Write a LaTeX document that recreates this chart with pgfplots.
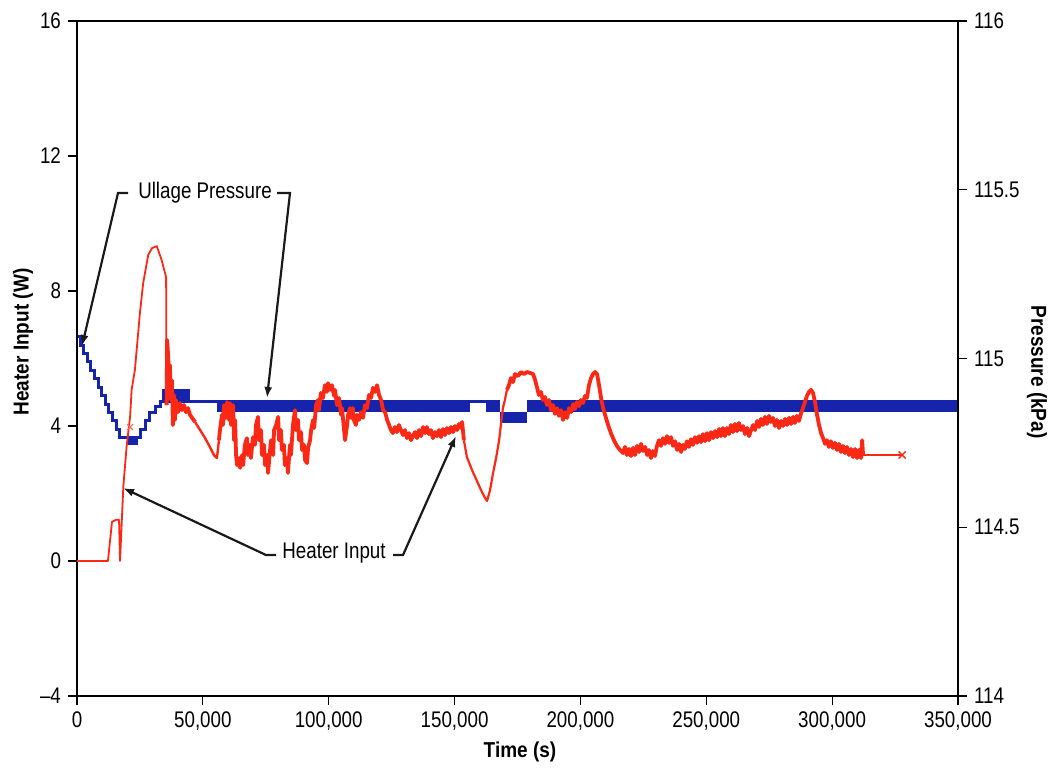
\documentclass[border=0pt]{standalone}
\usepackage{fontspec}
\setmainfont{Liberation Sans}[FakeStretch=0.83]
\newfontfamily\labfont{Liberation Sans}[FakeStretch=0.88]
\usepackage{pgfplots}
\pgfplotsset{compat=1.18}
\usetikzlibrary{arrows.meta}
\definecolor{ullage}{RGB}{22,36,172}
\definecolor{heater}{RGB}{250,40,20}
\newcommand\tickfont{\fontsize{11.3}{13}\selectfont}
\newcommand\annfont{\fontsize{11.3}{13}\selectfont}
\newcommand\axlabfont{\labfont\fontsize{10.8}{12}\bfseries}
\begin{document}
\begin{tikzpicture}
\pgfplotsset{common/.style={scale only axis, width=440.5pt, height=337.5pt,
  at={(0,0)}, anchor=south west, xmin=0, xmax=350000,
  scaled x ticks=false, scaled y ticks=false,
  tick align=outside, major tick length=4.5pt,
  tick style={line width=0.6pt, black},
  axis line style={line width=1pt, black},
  tick label style={font=\tickfont}}}
% ---------------- Pressure (right axis) ----------------
\begin{axis}[common, axis x line=none, axis y line*=right,
  ymin=114, ymax=116, ytick={114,114.5,115,115.5,116},
  yticklabels={114,114.5,115,115.5,116}]
\addplot[ullage, line width=1.5pt, const plot, line join=miter] coordinates {
(0,115.065) (1192,115.04) (2622,115.015) (4052,114.99) (5482,114.965)
(6913,114.94) (8343,114.915) (9773,114.89) (11203,114.865) (12633,114.84)
(14064,114.815) (15494,114.79) (16924,114.765) (25030,114.79) (27015,114.815)
(29001,114.84) (30988,114.857) (32974,114.872) (55619,114.872)};
\addplot[ullage, line width=4pt] coordinates {(19864,114.756) (24234,114.756)};
\addplot[ullage, line width=6.5pt] coordinates {(33769,114.890) (44893,114.890)};
\addplot[ullage, line width=6pt] coordinates {(55619,114.859) (156131,114.859)};
\addplot[ullage, line width=1.2pt] coordinates {(156131,114.873) (162488,114.873)};
\addplot[ullage, line width=6pt] coordinates {(162488,114.859) (168050,114.859)};
\addplot[ullage, line width=5.5pt] coordinates {(168050,114.825) (178776,114.825)};
\addplot[ullage, line width=6pt] coordinates {(178776,114.859) (350000,114.859)};
\end{axis}
% ---------------- Heater input (left axis) ----------------
\begin{axis}[common, ymin=-4, ymax=16, ytick={-4,0,4,8,12,16},
  yticklabels={–4,0,4,8,12,16},
  xtick={0,50000,100000,150000,200000,250000,300000,350000},
  xticklabels={0,50{,}000,100{,}000,150{,}000,200{,}000,250{,}000,300{,}000,350{,}000},
  xtick pos=bottom, ytick pos=left]
\addplot[heater, line width=0.9pt, line join=round] coordinates {
(0,0) (12300,0) (13900,1.16) (15500,1.22) (16700,1.22) (17100,0) (18400,2.20) (19700,3.39)
(21100,4.28) (21700,5.07) (23000,5.66) (25000,7.35) (26300,8.24) (28300,9.07) (29800,9.27)
(31700,9.33) (33600,8.92) (35400,8.41) (35600,4.62)};
\addplot[heater, line width=1.9pt, line join=round] coordinates {
(35600,4.62) (35800,6.55) (36200,6.10) (36600,5.36)
(36900,5.81) (37300,4.77) (37700,5.36) (38100,4.03) (38500,4.92) (38900,4.18) (39300,4.77)
(40100,4.41) (40900,4.68) (41700,4.47) (42500,4.62) (43300,4.41) (44100,4.53) (44900,4.33)
(46900,4.12)};
\addplot[heater, line width=1.2pt, line join=round] coordinates {
(46900,4.12) (48900,3.88) (50900,3.64) (52800,3.38) (54400,3.14) (55600,3.05) (56400,3.58)};
\addplot[heater, line width=1.9pt, line join=round] coordinates {
(56400,3.58)
(56800,3.88) (57600,4.33) (58000,4.03) (58400,4.62) (59200,4.24) (59600,4.71) (60400,4.18)
(60800,4.68) (61200,4.03) (62000,4.62) (62400,3.58) (62800,4.18) (63200,3.14) (63600,2.84)
(64400,3.05) (64800,2.76) (65600,3.14) (66000,2.84) (66700,3.44) (67500,3.64) (67900,3.14)
(68700,3.44) (69100,3.05) (69900,3.67) (70700,3.44) (71100,4.03) (71900,4.27) (72300,3.58)
(73100,3.88) (73500,3.14) (74300,3.44) (74700,2.84) (75500,3.14) (75900,2.61) (76700,3.29)
(77100,3.58) (77900,3.14) (78300,3.88) (79100,4.03) (79900,4.27) (80300,3.58) (81000,3.88)
(81400,3.29) (82200,3.44) (82600,2.84) (83400,3.05) (83800,2.61) (84600,3.44) (85000,3.14)
(85800,4.03) (86600,4.47) (87000,3.88) (87800,4.18) (88200,3.58) (89000,3.82) (89400,3.29)
(90200,3.44) (90600,2.99) (91400,2.90) (91800,3.35) (92600,3.58) (93000,3.88) (93800,4.18)
(94200,3.94) (95000,4.62) (95700,4.77) (96100,4.47) (96900,4.98) (97700,4.83) (98500,5.21)
(99300,5.01) (99700,5.27) (100500,5.07) (101300,5.21) (102100,4.89) (102500,5.07) (103300,4.62)
(104100,4.83) (104900,4.33) (105300,4.53) (106100,3.88) (106500,3.58) (107300,4.03) (107700,4.33)
(108500,4.53) (108900,4.24) (109600,4.53) (110000,4.18) (110800,4.03) (111200,4.33) (112000,4.18)
(112800,4.41) (113600,4.24) (114400,4.62) (115200,4.53) (116000,4.92) (116800,4.83) (117600,5.13)
(118400,5.01) (119200,5.21) (120000,4.92) (120800,4.77) (121600,4.47) (122400,4.41) (123200,4.18)
(124000,4.03) (124700,3.88) (125500,3.79) (126300,3.97) (127100,3.82) (127900,4.03) (128700,3.88)
(129500,3.73) (130300,3.88) (131100,3.64) (131900,3.79) (132700,3.58) (133500,3.70) (134300,3.82)
(135100,3.64) (135900,3.88) (136700,3.70) (137500,3.97) (138300,3.79) (139000,3.97) (139800,3.76)
(140600,3.88) (141400,3.64) (142200,3.82) (143000,3.70) (143800,3.88) (144600,3.67) (145400,3.91)
(146200,3.73) (147000,3.94) (147800,3.79) (148600,3.97) (149400,3.82) (150200,4.00) (151000,3.88)
(151800,4.06) (152600,3.94) (153000,4.12) (153700,3.58)};
\addplot[heater, line width=1.1pt, line join=round] coordinates {
(153700,3.58) (154900,3.08) (156900,2.70) (158900,2.37)
(160900,2.04) (162100,1.87) (162900,1.78) (164100,2.10) (165300,2.61) (166500,3.05) (167700,3.58)
(168400,4.03) (169200,4.53) (170000,4.77) (170800,5.07)};
\addplot[heater, line width=1.9pt, line join=round] coordinates {
(170800,5.07) (171600,5.21) (172400,5.42) (173200,5.30)
(174000,5.54) (175200,5.48) (176400,5.60) (177600,5.54) (178800,5.60) (180000,5.57) (181200,5.54)
(182000,5.36) (182800,5.13) (183500,4.92) (184300,5.01) (185100,4.77) (185900,4.86) (186700,4.62)
(187500,4.77) (188300,4.47) (189100,4.62) (189900,4.36) (190700,4.53) (191500,4.30) (192300,4.47)
(193100,4.18) (193900,4.41) (194700,4.24) (195500,4.53) (196300,4.41) (197100,4.65) (197800,4.50)
(198600,4.71) (199400,4.59) (200200,4.77) (201000,4.68) (201800,4.89) (202600,4.83) (203400,5.21)
(204200,5.42) (205000,5.54) (205800,5.60) (206600,5.54) (207400,5.21) (208200,4.83) (209000,4.53)
(209800,4.33) (211000,4.03) (212100,3.79) (213300,3.58) (214500,3.41) (215700,3.29) (216900,3.20)
(217700,3.38) (218500,3.14) (219300,3.32) (220100,3.11) (220900,3.35) (221700,3.14) (222500,3.41)
(223300,3.23) (224100,3.47) (224900,3.26) (225700,3.38) (226500,3.14) (227200,3.29) (228000,3.05)
(228800,3.26) (229600,3.11) (230400,3.41) (231200,3.58) (232000,3.41) (232800,3.64) (233600,3.47)
(234400,3.70) (235200,3.50) (236000,3.67) (236800,3.41) (237600,3.55) (238400,3.29) (239200,3.47)
(240000,3.23) (240800,3.44) (241500,3.32) (242300,3.55) (243100,3.38) (243900,3.61) (244700,3.44)
(245500,3.67) (246300,3.50) (247100,3.70) (247900,3.52) (248700,3.76) (249500,3.55) (250300,3.79)
(251100,3.58) (251900,3.82) (252700,3.64) (253500,3.85) (254300,3.67) (255100,3.91) (255800,3.70)
(256600,3.94) (257400,3.70) (258200,3.94) (259000,3.76) (259800,4.03) (260600,3.82) (261400,4.06)
(262200,3.85) (263000,4.09) (263800,3.88) (264600,4.00) (265400,3.76) (266200,3.94) (267000,3.70)
(267800,3.88) (268600,4.03) (269400,3.88) (270200,4.15) (271000,3.97) (271700,4.21) (272500,4.03)
(273300,4.27) (274100,4.06) (274900,4.30) (275700,4.12) (276500,4.24) (277300,4.00) (278100,4.18)
(278900,3.94) (279700,4.15) (280500,4.00) (281300,4.21) (282100,4.03) (282900,4.24) (283700,4.06)
(284500,4.27) (285200,4.09) (286000,4.30) (286800,4.15) (287600,4.36) (288400,4.53) (289200,4.71)
(290000,4.89) (290800,5.01) (291600,5.07) (292400,4.98) (293200,4.71) (294000,4.33) (294800,4.03)
(295600,3.79) (296400,3.64) (297200,3.47) (297900,3.58) (298700,3.38) (299500,3.55) (300300,3.35)
(301100,3.50) (301900,3.29) (302700,3.47) (303500,3.23) (304300,3.41) (305100,3.20) (305900,3.38)
(306700,3.14) (307500,3.32) (308300,3.08) (309100,3.32) (309900,3.05) (310700,3.29) (311500,3.05)
(311900,3.58) (312300,3.14)};
\addplot[heater, line width=0.9pt] coordinates {(312300,3.14) (327800,3.14)};
\addplot[heater, only marks, mark=x, mark size=2.5pt, line width=0.7pt] coordinates {(327800,3.14)};
\addplot[heater!70, only marks, mark=x, mark size=2pt, line width=0.6pt] coordinates {(21100,3.97)};
\end{axis}
% ---------------- annotations (pixel frame of the reference) ----------------
\begin{scope}[x=0.5pt, y=-0.5pt, shift={(-38.5pt,348pt)}]
\draw[line width=1.1pt, black!90, line join=miter, -{Latex[length=5.5pt,width=4pt]}] (128,193) -- (118,193) -- (82,346);
\draw[line width=1.1pt, black!90, line join=miter, -{Latex[length=5.5pt,width=4pt]}] (277,193) -- (290,193) -- (267,398);
\draw[line width=1.1pt, black!90, line join=miter, -{Latex[length=5.5pt,width=4pt]}] (276,555) -- (266,555) -- (123,488);
\draw[line width=1.1pt, black!90, line join=miter, -{Latex[length=5.5pt,width=4pt]}] (393,555) -- (403,555) -- (456,436);
\node[font=\annfont, inner sep=0pt] at (205,193) {Ullage Pressure};
\node[font=\annfont, inner sep=0pt] at (334,553) {Heater Input};
\node[font=\axlabfont, rotate=90, inner sep=0pt] at (23,342) {Heater Input (W)};
\node[font=\axlabfont, rotate=-90, inner sep=0pt] at (1037,372) {Pressure (kPa)};
\node[font=\axlabfont, inner sep=0pt] at (520,752) {Time (s)};
\pgfresetboundingbox
\path[use as bounding box] (0,0) rectangle (1054,773);
\end{scope}
\end{tikzpicture}
\end{document}
